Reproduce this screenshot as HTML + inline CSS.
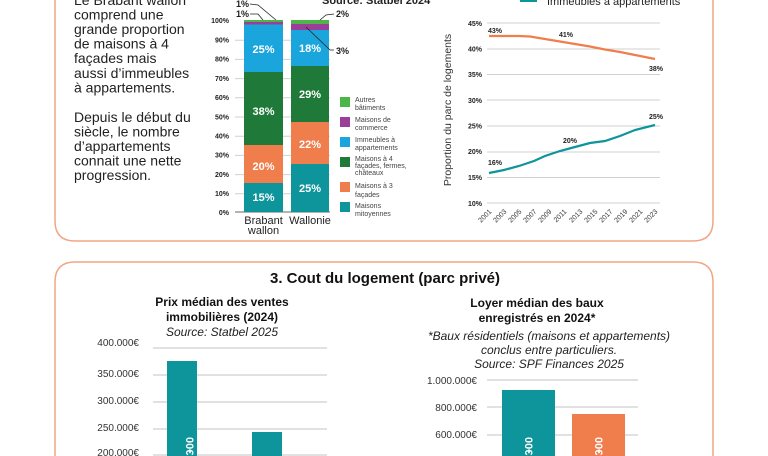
<!DOCTYPE html>
<html><head><meta charset="utf-8"><style>
html,body{margin:0;padding:0;background:#fff;width:768px;height:456px;overflow:hidden}
svg{display:block}
text{font-family:"Liberation Sans",sans-serif}
</style></head><body>
<svg width="768" height="456" viewBox="0 0 768 456" xmlns="http://www.w3.org/2000/svg">
<path d="M55,0 L55,221 Q55,241 75,241 L693,241 Q713,241 713,221 L713,0" fill="none" stroke="#f2a582" stroke-width="1.5"/>
<path d="M55,456 L55,282 Q55,262 75,262 L693,262 Q713,262 713,282 L713,456" fill="none" stroke="#f2a582" stroke-width="1.5"/>

<g font-size="14" fill="#222">
<text x="74" y="5">Le Brabant wallon</text>
<text x="74" y="19.5">comprend une</text>
<text x="74" y="34">grande proportion</text>
<text x="74" y="48.5">de maisons à 4</text>
<text x="74" y="63">façades mais</text>
<text x="74" y="78">aussi d’immeubles</text>
<text x="74" y="92.5">à appartements.</text>
<text x="74" y="122">Depuis le début du</text>
<text x="74" y="136.5">siècle, le nombre</text>
<text x="74" y="151">d’appartements</text>
<text x="74" y="165.5">connait une nette</text>
<text x="74" y="180">progression.</text>
</g>

<text x="322" y="4" font-size="11" font-weight="bold" fill="#222">Source: Statbel 2024</text>
<g stroke="#d0d0d0" stroke-width="1">
<line x1="235" y1="40.2" x2="330" y2="40.2"/><line x1="235" y1="59.4" x2="330" y2="59.4"/><line x1="235" y1="78.6" x2="330" y2="78.6"/><line x1="235" y1="97.8" x2="330" y2="97.8"/><line x1="235" y1="117" x2="330" y2="117"/><line x1="235" y1="136.2" x2="330" y2="136.2"/><line x1="235" y1="155.4" x2="330" y2="155.4"/><line x1="235" y1="174.6" x2="330" y2="174.6"/><line x1="235" y1="193.8" x2="330" y2="193.8"/>
</g>
<line x1="235" y1="212" x2="330" y2="212" stroke="#888" stroke-width="1.2"/>
<g font-size="7" font-weight="bold" fill="#222" text-anchor="end">
<text x="229" y="23">100%</text><text x="229" y="42.5">90%</text><text x="229" y="61.7">80%</text><text x="229" y="80.9">70%</text><text x="229" y="100">60%</text><text x="229" y="119.3">50%</text><text x="229" y="138.5">40%</text><text x="229" y="157.7">30%</text><text x="229" y="176.9">20%</text><text x="229" y="196">10%</text><text x="229" y="215">0%</text>
</g>
<rect x="244" y="183" width="39" height="29" fill="#0e949b"/>
<rect x="244" y="145" width="39" height="38" fill="#f07e4c"/>
<rect x="244" y="72" width="39" height="73" fill="#1f7a3a"/>
<rect x="244" y="24" width="39" height="48" fill="#1aa6dc"/>
<rect x="244" y="22" width="39" height="2.5" fill="#9b3e99"/>
<rect x="244" y="20" width="39" height="2" fill="#4cb648"/>
<rect x="291" y="164" width="38" height="48" fill="#0e949b"/>
<rect x="291" y="122" width="38" height="42" fill="#f07e4c"/>
<rect x="291" y="66" width="38" height="56" fill="#1f7a3a"/>
<rect x="291" y="30" width="38" height="36" fill="#1aa6dc"/>
<rect x="291" y="24" width="38" height="6" fill="#9b3e99"/>
<rect x="291" y="20" width="38" height="4" fill="#4cb648"/>
<g font-size="11" font-weight="bold" fill="#fff" text-anchor="middle">
<text x="263.5" y="201">15%</text><text x="263.5" y="170">20%</text><text x="263.5" y="115">38%</text><text x="263.5" y="53">25%</text>
<text x="310" y="192">25%</text><text x="310" y="148">22%</text><text x="310" y="98">29%</text><text x="310" y="52">18%</text>
</g>
<g font-size="9" font-weight="bold" fill="#222">
<text x="236" y="7">1%</text><text x="236" y="17">1%</text><text x="336" y="17">2%</text><text x="336" y="54">3%</text>
</g>
<g stroke="#222" stroke-width="0.8" fill="none">
<path d="M250,4 L258,5 L276,20"/><path d="M250,14 L258,14 L263,20"/><path d="M334,14 L326,15 L320,20"/><path d="M334,50 L330,50 L306,27"/>
</g>
<g font-size="11" fill="#222" text-anchor="middle">
<text x="263.5" y="224">Brabant</text><text x="263.5" y="234">wallon</text><text x="310" y="224">Wallonie</text>
</g>
<rect x="340" y="97" width="10" height="10" fill="#4cb648"/>
<rect x="340" y="117" width="10" height="10" fill="#9b3e99"/>
<rect x="340" y="137" width="10" height="10" fill="#1aa6dc"/>
<rect x="340" y="157" width="10" height="10" fill="#1f7a3a"/>
<rect x="340" y="182" width="10" height="10" fill="#f07e4c"/>
<rect x="340" y="202" width="10" height="10" fill="#0e949b"/>
<g font-size="7" fill="#444">
<text x="355" y="102">Autres</text><text x="355" y="110">bâtiments</text>
<text x="355" y="122">Maisons de</text><text x="355" y="130">commerce</text>
<text x="355" y="142">Immeubles à</text><text x="355" y="150">appartements</text>
<text x="355" y="161">Maisons à 4</text><text x="355" y="168">façades, fermes,</text><text x="355" y="175">châteaux</text>
<text x="355" y="188">Maisons à 3</text><text x="355" y="197">façades</text>
<text x="355" y="208">Maisons</text><text x="355" y="216">mitoyennes</text>
</g>

<rect x="520" y="0" width="17" height="2" fill="#0e949b"/>
<text x="547" y="5" font-size="11" fill="#222">Immeubles à appartements</text>
<g stroke="#d0d0d0" stroke-width="1">
<line x1="487" y1="23" x2="660" y2="23"/><line x1="487" y1="49" x2="660" y2="49"/><line x1="487" y1="74.5" x2="660" y2="74.5"/><line x1="487" y1="100" x2="660" y2="100"/><line x1="487" y1="126" x2="660" y2="126"/><line x1="487" y1="152" x2="660" y2="152"/><line x1="487" y1="177.5" x2="660" y2="177.5"/><line x1="487" y1="203" x2="660" y2="203"/>
</g>
<g font-size="7" font-weight="bold" fill="#222" text-anchor="end">
<text x="482" y="26">45%</text><text x="482" y="51.5">40%</text><text x="482" y="77">35%</text><text x="482" y="103">30%</text><text x="482" y="128.5">25%</text><text x="482" y="154">20%</text><text x="482" y="180">15%</text><text x="482" y="206">10%</text>
</g>
<text transform="translate(451,110) rotate(-90)" font-size="10.5" fill="#333" text-anchor="middle">Proportion du parc de logements</text>
<path d="M489,36 L504,36 L519,36 L530,36.5 L545,39 L560,41.5 L575,44 L590,46.5 L605,49.5 L620,52 L635,55 L655,59" fill="none" stroke="#f07e4c" stroke-width="2.2"/>
<path d="M489,173 L504,170 L519,166 L534,161 L545,156 L560,151 L575,147 L590,143 L605,141 L620,136 L635,130 L655,125" fill="none" stroke="#0e949b" stroke-width="2.2"/>
<g font-size="7" font-weight="bold" fill="#222" text-anchor="middle">
<text x="495" y="33">43%</text><text x="566" y="37">41%</text><text x="656" y="71">38%</text><text x="656" y="119">25%</text><text x="570" y="143">20%</text><text x="495" y="165">16%</text>
</g>
<g font-size="7" fill="#333" text-anchor="end">
<text transform="translate(492,212) rotate(-45)">2001</text>
<text transform="translate(507,212) rotate(-45)">2003</text>
<text transform="translate(522,212) rotate(-45)">2005</text>
<text transform="translate(537,212) rotate(-45)">2007</text>
<text transform="translate(552,212) rotate(-45)">2009</text>
<text transform="translate(567,212) rotate(-45)">2011</text>
<text transform="translate(583,212) rotate(-45)">2013</text>
<text transform="translate(598,212) rotate(-45)">2015</text>
<text transform="translate(613,212) rotate(-45)">2017</text>
<text transform="translate(628,212) rotate(-45)">2019</text>
<text transform="translate(643,212) rotate(-45)">2021</text>
<text transform="translate(658,212) rotate(-45)">2023</text>
</g>

<text x="385" y="283" font-size="15" font-weight="bold" fill="#111" text-anchor="middle">3. Cout du logement (parc privé)</text>
<g font-size="12" font-weight="bold" fill="#111" text-anchor="middle">
<text x="222" y="306">Prix médian des ventes</text>
<text x="222" y="321">immobilières (2024)</text>
<text x="537" y="307">Loyer médian des baux</text>
<text x="537" y="322">enregistrés en 2024*</text>
</g>
<g font-size="12" font-style="italic" fill="#222" text-anchor="middle">
<text x="222" y="336">Source: Statbel 2025</text>
<text x="549" y="340">*Baux résidentiels (maisons et appartements)</text>
<text x="549" y="354">conclus entre particuliers.</text>
<text x="549" y="368">Source: SPF Finances 2025</text>
</g>
<g stroke="#cfcfcf" stroke-width="1.2">
<line x1="153" y1="348" x2="327" y2="348"/><line x1="153" y1="375" x2="327" y2="375"/><line x1="153" y1="402" x2="327" y2="402"/><line x1="153" y1="429" x2="327" y2="429"/><line x1="153" y1="455" x2="327" y2="455"/>
<line x1="487" y1="380" x2="638" y2="380"/><line x1="487" y1="407" x2="638" y2="407"/><line x1="487" y1="435" x2="638" y2="435"/>
</g>
<g font-size="10" fill="#333" text-anchor="end">
<text x="139" y="346">400.000€</text><text x="139" y="377">350.000€</text><text x="139" y="404">300.000€</text><text x="139" y="431">250.000€</text><text x="139" y="456">200.000€</text>
<text x="477" y="384">1.000.000€</text><text x="477" y="411">800.000€</text><text x="477" y="438">600.000€</text>
</g>
<rect x="167" y="361" width="30" height="95" fill="#0e949b"/>
<rect x="252" y="432" width="30" height="24" fill="#0e949b"/>
<rect x="502" y="390" width="53" height="66" fill="#0e949b"/>
<rect x="572" y="414" width="53" height="42" fill="#f07e4c"/>
<g font-size="11" font-weight="bold" fill="#fff">
<text transform="translate(186,437) rotate(90)">00€</text>
<text transform="translate(525,437) rotate(90)">00€</text>
<text transform="translate(595,437) rotate(90)">00€</text>
</g>
</svg>
</body></html>
